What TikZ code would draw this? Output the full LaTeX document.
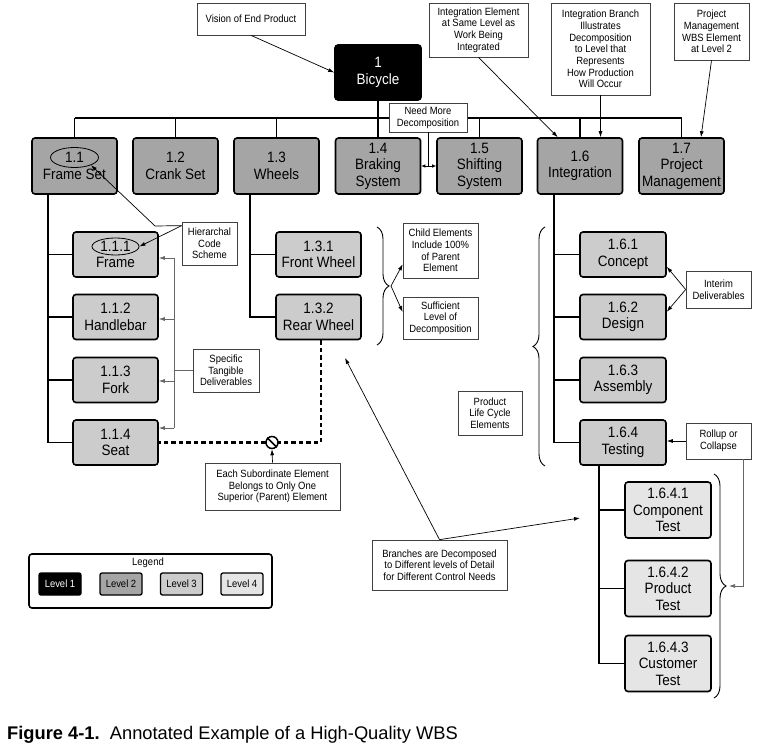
\documentclass[tikz,border=0pt]{standalone}
\usepackage{fontspec}
\setmainfont{Liberation Sans}[FakeStretch=0.9]
\newfontfamily\capfont{Liberation Sans}
\usetikzlibrary{arrows.meta,decorations.pathreplacing,calc,shapes.geometric}
\definecolor{lvtwo}{RGB}{165,165,165}
\definecolor{lvthree}{RGB}{204,204,204}
\definecolor{lvfour}{RGB}{229,229,229}
\begin{document}
\begin{tikzpicture}[x=1pt,y=-1pt,
  wbs/.style={draw, line width=1.6pt, rounded corners=3pt, minimum width=85pt, align=center, font=\fontsize{15}{16.5}\selectfont, inner sep=0pt},
  lvA/.style={wbs, fill=black, text=white, minimum height=55pt, minimum width=86pt},
  lvB/.style={wbs, fill=lvtwo, minimum height=56pt},
  lvC/.style={wbs, fill=lvthree, minimum height=45pt},
  lvD/.style={wbs, fill=lvfour, minimum height=56pt, minimum width=86pt},
  note/.style={draw=black!75, line width=0.7pt, fill=white, align=center, font=\fontsize{10.5}{11.7}\selectfont, inner sep=0pt},
  tree/.style={line width=1.8pt},
  arr/.style={line width=0.7pt, -{Latex[length=6pt,width=4pt]}},
  garr/.style={line width=0.7pt, draw=black!60, -{Latex[length=6pt,width=4pt]}},
  brc/.style={decorate, decoration={brace, amplitude=12pt}, line width=0.9pt, draw=black},
  legbox/.style={draw, line width=1.3pt, rounded corners=2pt, minimum width=42pt, minimum height=22pt, inner sep=0pt, font=\fontsize{10.5}{12}\selectfont}
]
\useasboundingbox (0,0) rectangle (770,751);
\fill[white] (0,0) rectangle (770,751);

% ---------- Level 1 and 2
\node[lvA] (n1) at (378,72.5) {1\\Bicycle};
\node[lvB] (n11) at (74.5,166) {1.1\\Frame Set};
\node[lvB] (n12) at (175.5,166) {1.2\\Crank Set};
\node[lvB] (n13) at (276.5,166) {1.3\\Wheels};
\node[lvB] (n14) at (378,166) {1.4\\Braking\\System};
\node[lvB] (n15) at (479.5,166) {1.5\\Shifting\\System};
\node[lvB] (n16) at (580,166) {1.6\\Integration};
\node[lvB] (n17) at (681.5,166) {1.7\\Project\\Management};

\coordinate (bus) at (0,118);
\draw[tree] (n11.north |- bus) -- (n17.north |- bus);
\foreach \n in {n11,n12,n13,n15,n16,n17} \draw[tree] (\n.north |- bus) -- (\n.north);
\draw[tree] (n1.south) -- (n14.north);

% ---------- Level 3
\node[lvC] (n111) at (115.5,254.5) {1.1.1\\Frame};
\node[lvC] (n112) at (115.5,317) {1.1.2\\Handlebar};
\node[lvC] (n113) at (115.5,380) {1.1.3\\Fork};
\node[lvC] (n114) at (115.5,442.5) {1.1.4\\Seat};
\node[lvC] (n131) at (318.5,254.5) {1.3.1\\Front Wheel};
\node[lvC] (n132) at (318.5,317) {1.3.2\\Rear Wheel};
\node[lvC, minimum width=86pt] (n161) at (623,254.5) {1.6.1\\Concept};
\node[lvC, minimum width=86pt] (n162) at (623,317) {1.6.2\\Design};
\node[lvC, minimum width=86pt] (n163) at (623,380) {1.6.3\\Assembly};
\node[lvC, minimum width=86pt] (n164) at (623,442.5) {1.6.4\\Testing};

\coordinate (t11) at (48,194);
\draw[tree] (t11) |- (n114.west);
\foreach \n in {n111,n112,n113} \draw[tree] (t11 |- \n.west) -- (\n.west);
\coordinate (t13) at (250,194);
\draw[tree] (t13) |- (n132.west);
\draw[tree] (t13 |- n131.west) -- (n131.west);
\coordinate (t16) at (554,194);
\draw[tree] (t16) |- (n164.west);
\foreach \n in {n161,n162,n163} \draw[tree] (t16 |- \n.west) -- (\n.west);

% ---------- Level 4
\node[lvD] (n1641) at (668,510) {1.6.4.1\\Component\\Test};
\node[lvD] (n1642) at (668,588.5) {1.6.4.2\\Product\\Test};
\node[lvD] (n1643) at (668,663.5) {1.6.4.3\\Customer\\Test};
\coordinate (t164) at (599,465);
\draw[tree] (t164) |- (n1643.west);
\foreach \n in {n1641,n1642} \draw[tree] (t164 |- \n.west) -- (\n.west);

% ---------- code ellipses
\node[ellipse, draw, line width=0.8pt, minimum width=48pt, minimum height=20pt, inner sep=0pt] (e11) at (74.5,157.5) {};
\node[ellipse, draw, line width=0.8pt, minimum width=47pt, minimum height=17pt, inner sep=0pt] (e111) at (115.5,246.5) {};

% ---------- annotations
\node[note, minimum width=108pt, minimum height=32pt] (vision) at (251,19) {Vision of End Product};
\node[note, minimum width=99pt, minimum height=54pt] (intel) at (478.5,30) {Integration Element\\at Same Level as\\Work Being\\Integrated};
\node[note, minimum width=99pt, minimum height=92pt] (intbr) at (600.5,49) {Integration Branch\\Illustrates\\Decomposition\\to Level that\\Represents\\How Production\\Will Occur};
\node[note, minimum width=75pt, minimum height=57pt] (pm) at (711.5,31.5) {Project\\Management\\WBS Element\\at Level 2};
\node[note, minimum width=78pt, minimum height=29pt] (need) at (428,117.5) {Need More\\Decomposition};
\node[note, minimum width=55pt, minimum height=43pt] (hier) at (209.5,243.5) {Hierarchal\\Code\\Scheme};
\node[note, minimum width=66pt, minimum height=43pt] (spec) at (226,370.5) {Specific\\Tangible\\Deliverables};
\node[note, minimum width=75pt, minimum height=55pt] (child) at (440.5,250.5) {Child Elements\\Include 100\%\\of Parent\\Element};
\node[note, minimum width=75pt, minimum height=42pt] (suff) at (440.5,318) {Sufficient\\Level of\\Decomposition};
\node[note, minimum width=135pt, minimum height=47pt] (each) at (272.5,486.5) {Each Subordinate Element\\Belongs to Only One\\Superior (Parent) Element};
\node[note, minimum width=135pt, minimum height=50pt] (branch) at (439.5,565) {Branches are Decomposed\\to Different levels of Detail\\for Different Control Needs};
\node[note, minimum width=64pt, minimum height=44pt] (plc) at (490,413) {Product\\Life Cycle\\Elements};
\node[note, minimum width=65pt, minimum height=37pt] (interim) at (718.5,289.5) {Interim\\Deliverables};
\node[note, minimum width=65pt, minimum height=36pt] (rollup) at (718.5,441) {Rollup or\\Collapse};

% ---------- annotation connectors
\draw[arr] (vision.south) -- (n1.west);
\draw[arr] (intel.south) -- ([xshift=21pt]n16.north west);
\draw[arr] (intbr.south) -- (intbr.south |- n16.north);
\draw[arr] (pm.south) -- ([xshift=19.5pt]n17.north);
\draw[line width=0.7pt] (need.south) -- (need.south |- n14.east);
\draw[line width=0.7pt, {Latex[length=4pt,width=3.5pt]}-{Latex[length=4pt,width=3.5pt]}] (n14.east) -- (n15.west);

\coordinate (hs) at ([yshift=-4pt]hier.north west);
\coordinate (hk) at (155,226);
\draw[arr] (hs) -- (hk) -- (e11.-25);
\draw[arr] (hs) -- (e111.east);

\coordinate (sp) at (174,0);
\draw[line width=0.7pt, draw=black!60] (spec.west) -- (sp |- spec.west);
\draw[line width=0.7pt, draw=black!60] ([yshift=-3.5pt]sp |- n111.east) -- ([yshift=14.5pt]sp |- n114.east);
\draw[garr] ([yshift=-3.5pt]sp |- n111.east) -- ([yshift=-3.5pt]n111.east);
\draw[garr] ([yshift=-2pt]sp |- n112.east) -- ([yshift=-2pt]n112.east);
\draw[garr] ([yshift=-1pt]sp |- n113.east) -- ([yshift=-1pt]n113.east);
\draw[garr] ([yshift=14.5pt]sp |- n114.east) -- ([yshift=14.5pt]n114.east);

% braces
\draw[brc] (377,227) -- (377,345);
\coordinate (b13) at (391,286);
\draw[arr] (b13) -- ([yshift=14pt]child.south west);
\draw[arr] (b13) -- ([yshift=6pt]suff.west);

\draw[brc] (545,466) -- (545,227);
\draw[brc] (714,474) -- (714,698);

\draw[arr] (interim.west) -- ([yshift=11pt]n161.south east);
\draw[arr] (interim.west) -- ([yshift=-18pt]n162.north east);
\draw[arr] (rollup.west) -- (rollup.west -| n164.east);
\coordinate (b164) at (729,586);
\draw[garr] ([xshift=-8pt]rollup.south east) |- (b164);

% dashed subordinate link
\draw[line width=2.6pt, dash pattern=on 4.5pt off 3pt] ([xshift=2.5pt]n132.south) |- (n114.east);
\node[circle, draw, line width=1.5pt, fill=white, minimum size=12pt, inner sep=0pt] (cross) at (272,442.5) {};
\draw[line width=1.5pt] (cross.135) -- (cross.-45);
\draw[arr] (each.north) -- (cross.south);

% branches
\coordinate (br1) at (345,358);
\coordinate (br2) at (580,518);
\draw[arr] (branch.north) -- (br1);
\draw[arr] (branch.north) -- (br2);

% legend
\node[draw, line width=1.6pt, rounded corners=3pt, minimum width=243pt, minimum height=54pt, inner sep=0pt] (legend) at (150.5,581) {};
\node[font=\fontsize{10.5}{12}\selectfont, inner sep=0pt] (legt) at (148,563) {Legend};
\node[legbox, fill=black, text=white] (l1) at (60,584) {Level 1};
\node[legbox, fill=lvtwo] (l2) at (121,584) {Level 2};
\node[legbox, fill=lvthree] (l3) at (181.5,584) {Level 3};
\node[legbox, fill=lvfour] (l4) at (242,584) {Level 4};

% caption
\node[anchor=base west, inner sep=0pt, font=\capfont\fontsize{18.3}{20}\selectfont] (cap) at (7,739) {\textbf{Figure 4-1.}\ \ Annotated Example of a High-Quality WBS};
\end{tikzpicture}
\end{document}
